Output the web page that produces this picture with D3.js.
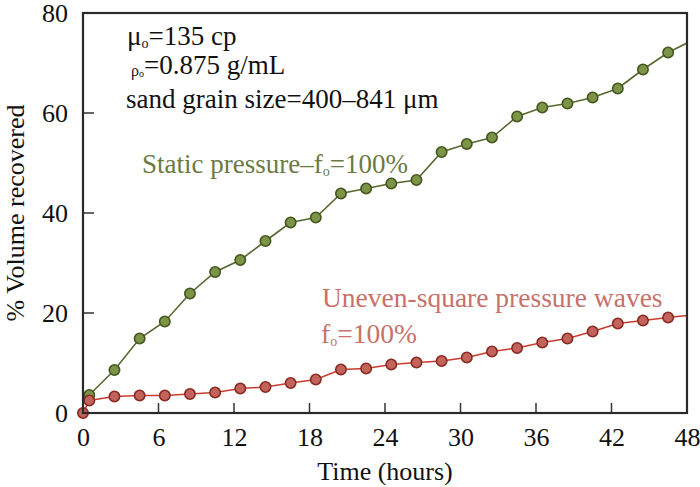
<!DOCTYPE html>
<html><head><meta charset="utf-8">
<script src="https://cdn.jsdelivr.net/npm/d3@7"></script>
<style>body{margin:0;background:#fff}svg{display:block}text{font-family:"Liberation Serif","Times New Roman",serif}</style>
</head><body><svg id="c" width="700" height="487"></svg>
<script>
// Data
const times = [0.5, 2.5, 4.5, 6.5, 8.5, 10.5, 12.5, 14.5, 16.5, 18.5, 20.5, 22.5, 24.5, 26.5, 28.5, 30.5, 32.5, 34.5, 36.5, 38.5, 40.5, 42.5, 44.5, 46.5];
const staticValues = [3.6, 8.6, 14.9, 18.3, 23.9, 28.2, 30.6, 34.4, 38.1, 39.1, 43.9, 44.9, 45.9, 46.6, 52.2, 53.8, 55.1, 59.3, 61.1, 61.9, 63.1, 64.9, 68.7, 72.1];
const wavesValues = [2.5, 3.3, 3.5, 3.5, 3.8, 4.1, 4.9, 5.2, 6.0, 6.7, 8.7, 8.9, 9.7, 10.1, 10.4, 11.1, 12.3, 13.0, 14.1, 14.9, 16.3, 17.9, 18.5, 19.1];
const wavesStart = {t: 0, v: 0};
const staticEnd = {t: 48, v: 74};
const wavesEnd = {t: 48, v: 19.5};
const xTicks = [0, 6, 12, 18, 24, 30, 36, 42, 48];
const yTicks = [0, 20, 40, 60, 80];

const svg = d3.select("#c");
const L = 83, R = 687, T = 13, B = 413;
const x = d3.scaleLinear().domain([0, 48]).range([L, R]);
const y = d3.scaleLinear().domain([0, 80]).range([B, T]);

const green = {line: "#56692f", fill: "#7b9448", stroke: "#45561f", text: "#6b7a45"};
const red = {line: "#c83c30", fill: "#c2645c", stroke: "#8a2a22", text: "#c8716a"};

svg.append("defs").append("clipPath").attr("id", "clip")
  .append("rect").attr("x", L).attr("y", T).attr("width", R - L).attr("height", B - T);

const xAxis = d3.axisBottom(x).tickValues(xTicks).tickSize(0).tickPadding(0).tickFormat(d3.format("d"));
const gx = svg.append("g").attr("transform", `translate(0,${B})`).call(xAxis);
gx.attr("font-family", null);
gx.select(".domain").remove();
gx.selectAll("text").attr("y", 33).attr("dy", null).attr("font-size", 26).attr("fill", "#111");
svg.append("g").selectAll("line").data(xTicks.filter(d => d > 0 && d < 48)).join("line")
  .attr("x1", d => x(d)).attr("x2", d => x(d)).attr("y1", B).attr("y2", B - 10)
  .attr("stroke", "#333").attr("stroke-width", 1.5);

const yAxis = d3.axisLeft(y).tickValues(yTicks).tickSize(0).tickPadding(0).tickFormat(d3.format("d"));
const gy = svg.append("g").attr("transform", `translate(${L},0)`).call(yAxis);
gy.attr("font-family", null);
gy.select(".domain").remove();
gy.selectAll("text").attr("x", -15).attr("dy", "0.34em").attr("font-size", 26).attr("fill", "#111");
svg.append("g").selectAll("line").data(yTicks.filter(d => d > 0 && d < 80)).join("line")
  .attr("x1", L).attr("x2", L + 11).attr("y1", d => y(d)).attr("y2", d => y(d))
  .attr("stroke", "#333").attr("stroke-width", 1.5);

const staticPts = times.map((t, i) => ({t, v: staticValues[i]}));
const wavesPts = [wavesStart].concat(times.map((t, i) => ({t, v: wavesValues[i]})));
const line = d3.line().x(d => x(d.t)).y(d => y(d.v));
const plot = svg.append("g").attr("clip-path", "url(#clip)");

plot.append("path").attr("d", line(staticPts.concat([staticEnd])))
  .attr("fill", "none").attr("stroke", green.line).attr("stroke-width", 1.6);
plot.append("path").attr("d", line(wavesPts.concat([wavesEnd])))
  .attr("fill", "none").attr("stroke", red.line).attr("stroke-width", 1.6);

svg.append("g").selectAll("circle").data(staticPts).join("circle")
  .attr("cx", d => x(d.t)).attr("cy", d => y(d.v)).attr("r", 5.2)
  .attr("fill", green.fill).attr("stroke", green.stroke).attr("stroke-width", 1.6);
svg.append("g").selectAll("circle").data(wavesPts).join("circle")
  .attr("cx", d => x(d.t)).attr("cy", d => y(d.v)).attr("r", 5.2)
  .attr("fill", red.fill).attr("stroke", red.stroke).attr("stroke-width", 1.6);

svg.append("rect").attr("x", L).attr("y", T).attr("width", R - L).attr("height", B - T)
  .attr("fill", "none").attr("stroke", "#2a2a2a").attr("stroke-width", 2.2);

svg.append("text").attr("x", (L + R) / 2).attr("y", 480).attr("text-anchor", "middle")
  .attr("font-size", 26).attr("fill", "#111").text("Time (hours)");
svg.append("text").attr("transform", `translate(24,${(T + B) / 2}) rotate(-90)`).attr("text-anchor", "middle")
  .attr("font-size", 26).attr("fill", "#111").text("% Volume recovered");

const t1 = svg.append("text").attr("x", 127).attr("y", 45).attr("font-size", 27).attr("fill", "#111");
t1.append("tspan").text("μ");
t1.append("tspan").attr("font-size", 14).attr("dy", 3).text("o");
t1.append("tspan").attr("dy", -3).text("=135 cp");

const t2 = svg.append("text").attr("x", 131).attr("y", 74).attr("font-size", 27).attr("fill", "#111");
t2.append("tspan").attr("font-size", 16).attr("dy", 2).text("ρ");
t2.append("tspan").attr("font-size", 10).attr("dy", 1).text("o");
t2.append("tspan").attr("dy", -3).text("=0.875 g/mL");

svg.append("text").attr("x", 126).attr("y", 108).attr("font-size", 27).attr("fill", "#111")
  .text("sand grain size=400–841 μm");

const t4 = svg.append("text").attr("x", 142).attr("y", 173).attr("font-size", 27).attr("fill", green.text);
t4.append("tspan").text("Static pressure–f");
t4.append("tspan").attr("font-size", 14).attr("dy", 3).text("o");
t4.append("tspan").attr("dy", -3).text("=100%");

svg.append("text").attr("x", 322).attr("y", 307).attr("font-size", 27.5).attr("fill", red.text)
  .text("Uneven-square pressure waves");
const t6 = svg.append("text").attr("x", 321).attr("y", 343).attr("font-size", 27.5).attr("fill", red.text);
t6.append("tspan").text("f");
t6.append("tspan").attr("font-size", 14).attr("dy", 3).text("o");
t6.append("tspan").attr("dy", -3).text("=100%");
</script></body></html>
